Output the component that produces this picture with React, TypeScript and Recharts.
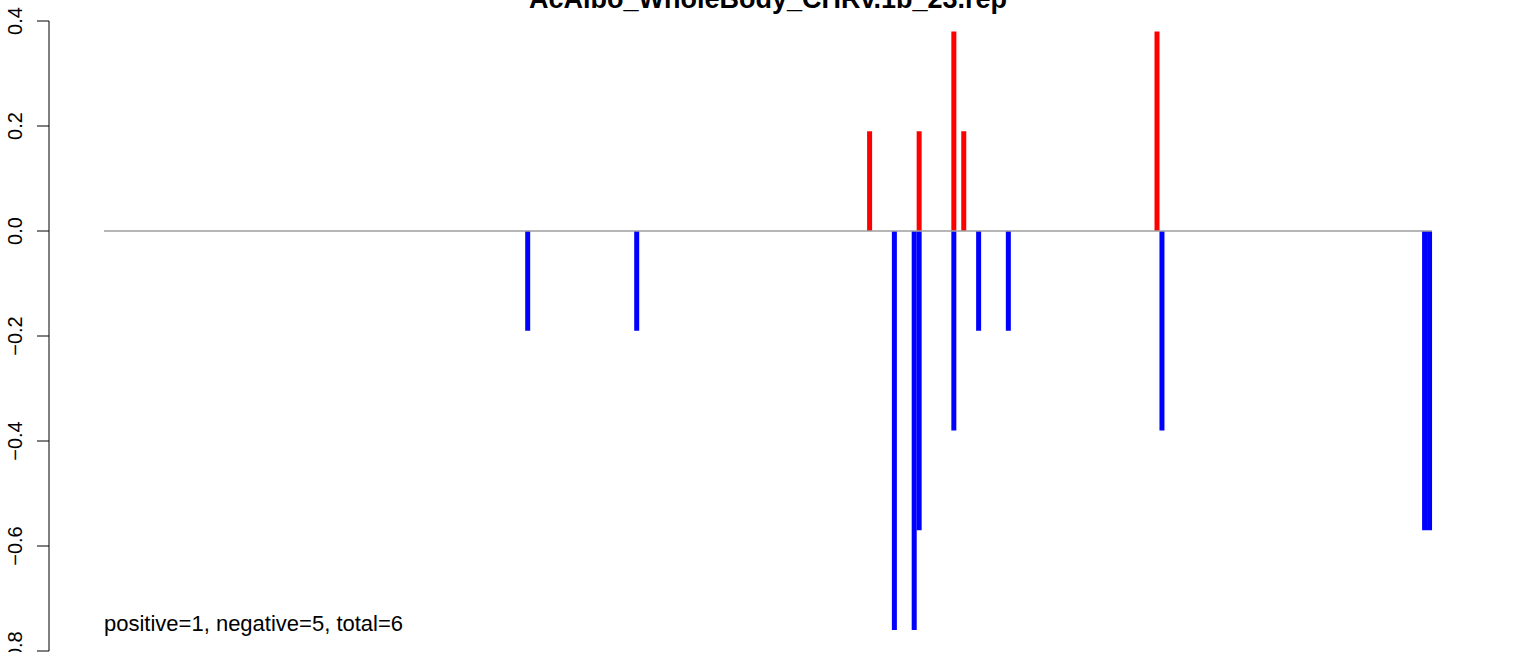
import { Bar, BarChart, ReferenceLine, XAxis, YAxis } from "recharts";

const TITLE = "AcAlbo_WholeBody_CHRv.1b_23.rep";
const NOTE = "positive=1, negative=5, total=6";

// positions along the x range (0..N_POS-1)
const N_POS = 268;
const POS_IDX = [154, 164, 171, 173, 212];
const POS_VAL = [0.19, 0.19, 0.38, 0.19, 0.38];
const NEG_IDX = [85, 107, 159, 163, 164, 171, 176, 182, 213, 266, 267];
const NEG_VAL = [-0.19, -0.19, -0.76, -0.76, -0.57, -0.38, -0.19, -0.19, -0.38, -0.57, -0.57];
const Y_TICKS = [-0.8, -0.6, -0.4, -0.2, 0, 0.2, 0.4];

const data = Array.from({ length: N_POS }, (_, i) => {
  const p = POS_IDX.indexOf(i);
  const n = NEG_IDX.indexOf(i);
  return { pos: i, up: p >= 0 ? POS_VAL[p] : 0, down: n >= 0 ? NEG_VAL[n] : 0 };
});

const FONT = "'Liberation Sans', Arial, Helvetica, sans-serif";

const fmt = (v: number) => v.toFixed(1).replace("-", "\u2212");

function YTick(props: any) {
  const { x, y, payload } = props;
  const bx = x - 15;
  return (
    <text
      x={bx}
      y={y}
      transform={`rotate(-90, ${bx}, ${y})`}
      textAnchor="middle"
      fontSize={20}
      fontFamily={FONT}
      fill="#000"
    >
      {fmt(payload.value)}
    </text>
  );
}

export default function App() {
  return (
    <div style={{ position: "absolute", left: 0, top: 0, width: 1536, height: 652, background: "#fff" }}>
      <BarChart
        width={1536}
        height={652}
        data={data}
        stackOffset="sign"
        barCategoryGap={0}
        barGap={0}
        margin={{ top: 21, right: 104, bottom: 1, left: 0 }}
      >
        <XAxis dataKey="pos" hide padding={{ left: 55, right: 0 }} />
        <XAxis
          xAxisId="n"
          dataKey="pos"
          type="number"
          domain={[0, N_POS]}
          allowDataOverflow
          hide
          padding={{ left: 55, right: 0 }}
        />
        <YAxis
          type="number"
          domain={[-0.8, 0.4]}
          ticks={Y_TICKS}
          interval={0}
          allowDataOverflow
          width={49}
          tickSize={12}
          tickMargin={0}
          axisLine={{ stroke: "#000", strokeWidth: 1 }}
          tickLine={{ stroke: "#000", strokeWidth: 1 }}
          tick={YTick}
        />
        <ReferenceLine
          xAxisId="n"
          segment={[
            { x: 0, y: 0 },
            { x: N_POS, y: 0 },
          ]}
          stroke="#9e9e9e"
          strokeWidth={1.5}
        />
        <Bar dataKey="up" stackId="a" fill="#ff0000" isAnimationActive={false} />
        <Bar dataKey="down" stackId="a" fill="#0000ff" isAnimationActive={false} />
      </BarChart>
      <svg
        width={1536}
        height={652}
        style={{ position: "absolute", left: 0, top: 0, pointerEvents: "none" }}
      >
        <text x={768} y={8} textAnchor="middle" fontSize={27} fontWeight="bold" fontFamily={FONT} fill="#000">
          {TITLE}
        </text>
        <text x={104} y={631} fontSize={22} fontFamily={FONT} fill="#000">
          {NOTE}
        </text>
      </svg>
    </div>
  );
}
